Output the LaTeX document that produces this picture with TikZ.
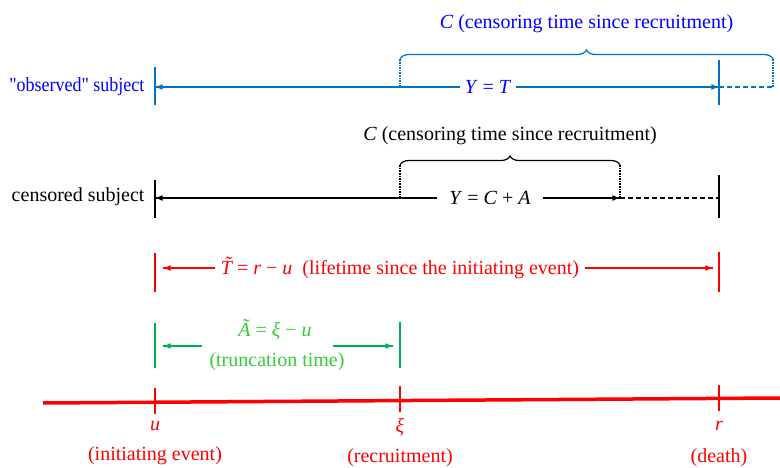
\documentclass[tikz,border=0pt]{standalone}
\usepackage{fontspec}
\setmainfont{Liberation Serif}
\usetikzlibrary{decorations.markings,decorations.pathreplacing}
\definecolor{obstext}{RGB}{0,0,255}
\definecolor{obsline}{RGB}{0,112,192}
\definecolor{evred}{RGB}{255,0,0}
\definecolor{trtext}{RGB}{51,204,51}
\definecolor{trline}{RGB}{0,176,80}

\begin{document}
\begin{tikzpicture}[x=1pt, y=-1pt, font=\fontsize{20}{24}\selectfont,
  endtip/.style={decoration={markings,mark=at position 1 with {\arrow{latex}}},postaction={decorate}},
  bar/.style={line width=1.6pt},
  dashline/.style={bar, dash pattern=on 5pt off 3pt},
  curly/.style={decorate,decoration={brace,amplitude=9pt}}]
\useasboundingbox (0,0) rectangle (780,468);

% time axis
\coordinate (a0) at (43,403);
\coordinate (a1) at (780,398);
\draw[evred, line width=3.5pt] (a0) -- (a1);
\draw[evred, line width=2.5pt] (155,388) -- (155,414);
\draw[evred, line width=2.5pt] (400,386) -- (400,412);
\draw[evred, line width=2.5pt] (719,385) -- (719,411);
\node[evred] (ul) at (155,426) {\textit{u}};
\node[evred] (uw) at (155,456) {(initiating event)};
\node[evred] (xil) at (400,427) {\textit{ξ}};
\node[evred] (xiw) at (400,458) {(recruitment)};
\node[evred] (rl) at (719,426) {\textit{r}};
\node[evred] (rw) at (719,458) {(death)};

% "observed" subject
\coordinate (o0) at (155,87);
\coordinate (o1) at (719,87);
\coordinate (oc) at (400,87);
\coordinate (oe) at (773,87);
\draw[obsline, bar] (155,67) -- (155,105);
\draw[obsline, bar] (719,60) -- (719,105);
\node[obstext, anchor=east] (obs) at (148,87) {\scalebox{0.9}[1]{\textquotedbl observed\textquotedbl\ subject}};
\node[obstext, inner sep=5pt] (yt) at (488,87) {\textit{Y} = \textit{T}};
\draw[obsline, bar, endtip] (yt.west) -- (o0);
\draw[obsline, bar, endtip] (yt.east) -- (o1);
\draw[obsline, dashline] (o1) -- (oe);
\draw[obsline, bar, densely dotted] (oc) -- (400,59);
\draw[obsline, bar, densely dotted] (oe) -- (773,59);
\draw[obsline, line width=1.2pt, curly] (400,59) -- (773,59) node[midway, above=22pt, obstext] (oC) {\textit{C} (censoring time since recruitment)};

% censored subject
\coordinate (c0) at (155,198);
\coordinate (c1) at (719,198);
\coordinate (cc) at (400,198);
\coordinate (ce) at (620,198);
\draw[bar] (155,180) -- (155,218);
\draw[bar] (719,175) -- (719,218);
\node[anchor=east] (cens) at (148,197) {censored subject};
\node[inner xsep=12pt] (yca) at (490,198) {\textit{Y} = \textit{C} + \textit{A}};
\draw[bar, endtip] (yca.west) -- (c0);
\draw[bar, endtip] (yca.east) -- (ce);
\draw[dashline] (ce) -- (c1);
\draw[bar, densely dotted] (cc) -- (400,165);
\draw[bar, densely dotted] (ce) -- (620,165);
\draw[line width=1.2pt, curly] (400,165) -- (620,165) node[midway, above=16pt] (cC) {\textit{C} (censoring time since recruitment)};

% lifetime
\draw[evred, bar] (155,253) -- (155,292);
\draw[evred, bar] (719,252) -- (719,292);
\node[evred, inner sep=6pt] (lt) at (400,268) {\textit{T\llap{\raisebox{4pt}{˜}\kern1pt}} = \textit{r} − \textit{u}\ \ (lifetime since the initiating event)};
\draw[evred, bar, endtip] (lt.west) -- (163,268);
\draw[evred, bar, endtip] (lt.east) -- (713,268);

% truncation
\draw[trline, bar] (155,323) -- (155,368);
\draw[trline, bar] (400,322) -- (400,368);
\node[trtext] (at) at (275,330) {\textit{Ã} = \textit{ξ} − \textit{u}};
\node[trtext] (tw) at (277,362) {(truncation time)};
\coordinate (g0) at (202,346);
\coordinate (g1) at (333,346);
\draw[trline, bar, endtip] (g0) -- (163,346);
\draw[trline, bar, endtip] (g1) -- (393,346);
\end{tikzpicture}
\end{document}
